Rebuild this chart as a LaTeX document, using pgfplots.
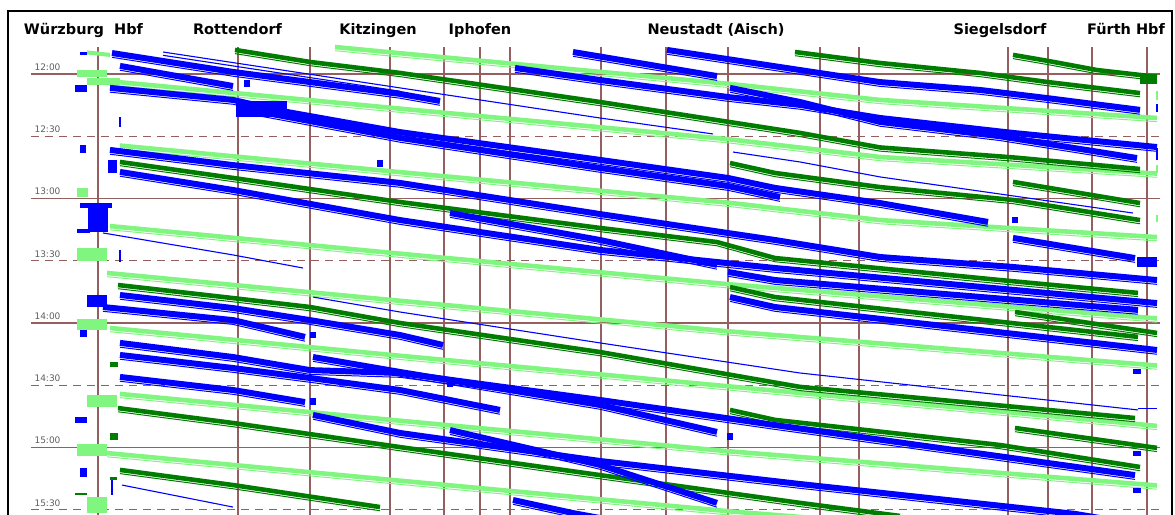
\documentclass[border=0pt]{standalone}
\usepackage{fontspec}
\setmainfont{DejaVu Sans}
\usepackage{pgfplots}
\pgfplotsset{compat=1.18}
\definecolor{tblue}{RGB}{0,0,255}
\definecolor{dgreen}{RGB}{0,125,0}
\definecolor{lgreen}{RGB}{128,245,128}
\definecolor{gridc}{RGB}{150,95,95}
\definecolor{tgray}{RGB}{95,95,95}
\tikzset{
 bb/.style={draw=tblue, line width=6pt, line join=bevel,
   postaction={draw=tblue, line width=1pt, transform canvas={yshift=-4.3pt}}},
 db/.style={draw=dgreen, line width=4.6pt, line join=bevel,
   postaction={draw=dgreen, line width=1pt, transform canvas={yshift=-3.7pt}}},
 lb/.style={draw=lgreen, line width=4.6pt, line join=bevel,
   postaction={draw=lgreen, line width=1pt, transform canvas={yshift=-3.7pt}}},
 tb/.style={draw=tblue, line width=1.1pt, line join=bevel},
 hl/.style={draw=gridc, line width=1.1pt},
 dl/.style={draw=gridc, line width=1.1pt, dash pattern=on 8pt off 6pt},
 st/.style={anchor=base, font=\bfseries\fontsize{14.5}{17}\selectfont},
 tl/.style={anchor=base west, text=tgray, font=\fontsize{9}{10}\selectfont},
}
\begin{document}
\begin{tikzpicture}
\begin{axis}[x=1pt, y=2.075pt, y dir=reverse, xmin=0, xmax=1175, ymin=-35.66, ymax=212.05,
  hide axis, enlargelimits=false, clip=true, every axis plot/.append style={mark=none}]
\fill[white] (0,-35.66) rectangle (1175,212.05);
% frame
\draw[black, line width=2.4pt] (8,230) -- (8,-30.4) -- (1172,-30.4) -- (1172,230);
% station lines
\pgfplotsinvokeforeach{98,238,310,390,444,480,510,601,666,728,820,859,1008,1048,1092,1147}
  {\draw[gridc, line width=1.2pt] (#1,-13) -- (#1,214);}
% time lines
\pgfplotsinvokeforeach{0,60,120,180} {\draw[hl] (31,#1) -- (1160,#1);}
\pgfplotsinvokeforeach{30,90,150,210} {\draw[dl] (31,#1) -- (1160,#1);}
% ---------------- light green trains
\addplot[lb] coordinates {(335,-13.0) (400,-10.0) (728,4.7) (880,12.5) (1157,21.2)};
\addplot[lb] coordinates {(107,3.4) (400,16.7) (728,31.4) (880,40.0) (1157,48.0)};
\addplot[lb] coordinates {(120,34.5) (400,47.3) (728,62.0) (880,70.4) (1157,78.6)};
\addplot[lb] coordinates {(110,73.3) (400,86.6) (728,101.3) (1157,117.8)};
\addplot[lb] coordinates {(107,95.9) (400,109.3) (728,124.0) (1157,140.5)};
\addplot[lb] coordinates {(110,122.4) (400,135.8) (728,150.5) (1157,169.6)};
\addplot[lb] coordinates {(120,154.2) (400,167.1) (728,181.8) (1157,198.3)};
\addplot[lb] coordinates {(107,182.7) (400,196.0) (728,210.7) (1157,227.2)};
\addplot[lgreen, line width=4pt] coordinates {(87,-10.4) (110,-9.2)};
% light green blocks at Wuerzburg
\addplot[lgreen, line width=7pt] coordinates {(77,-0.2) (107,-0.2)};
\addplot[lgreen, line width=7pt] coordinates {(87,3.4) (120,3.4)};
\addplot[lgreen, line width=9pt] coordinates {(77,57.1) (88,57.1)};
\addplot[lgreen, line width=13pt] coordinates {(77,87.2) (107,87.2)};
\addplot[lgreen, line width=11pt] coordinates {(77,120.5) (107,120.5)};
\addplot[lgreen, line width=12pt] coordinates {(87,157.6) (117,157.6)};
\addplot[lgreen, line width=12pt] coordinates {(77,181.2) (107,181.2)};
\addplot[lgreen, line width=16pt] coordinates {(87,207.7) (107,207.7)};
\addplot[lgreen, line width=1.5pt] coordinates {(1157,8.2) (1157,12.5)};
\addplot[lgreen, line width=1.5pt] coordinates {(1157,43.9) (1157,47.7)};
\addplot[lgreen, line width=1.5pt] coordinates {(1157,68.0) (1157,71.3)};
% ---------------- dark green trains
\addplot[db] coordinates {(235,-11.6) (310,-5.8) (400,-0.5) (600,13.5) (800,28.4) (880,35.4) (1013,40.2) (1140,45.8)};
\addplot[db] coordinates {(795,-10.6) (880,-5.3) (980,-0.5) (1048,3.9) (1140,9.2)};
\addplot[db] coordinates {(1013,-9.2) (1048,-6.3) (1097,-1.9) (1157,1.4)};
\addplot[db] coordinates {(730,42.9) (775,47.7) (880,54.5) (1013,60.7) (1140,70.4)};
\addplot[db] coordinates {(1013,52.0) (1140,62.2)};
\addplot[db] coordinates {(120,42.4) (233,50.1) (400,61.7) (600,74.2) (717,81.0) (775,88.7) (1000,99.3) (1138,105.5)};
\addplot[db] coordinates {(118,101.7) (233,108.0) (310,112.3) (400,120.0) (600,134.0) (800,150.8) (1135,165.8)};
\addplot[db] coordinates {(730,102.7) (775,107.5) (1138,126.7)};
\addplot[db] coordinates {(1015,114.7) (1157,124.8)};
\addplot[db] coordinates {(730,161.9) (775,166.7) (1000,178.8) (1140,189.4)};
\addplot[db] coordinates {(1015,170.6) (1157,180.2)};
\addplot[db] coordinates {(118,161.0) (233,168.2) (400,179.8) (600,193.3) (800,206.7) (900,213.0)};
\addplot[db] coordinates {(120,190.8) (233,198.1) (380,208.7)};
\addplot[dgreen, line width=5pt] coordinates {(110,140.2) (118,140.2)};
\addplot[dgreen, line width=7pt] coordinates {(110,174.7) (118,174.7)};
\addplot[dgreen, line width=3pt] coordinates {(110,194.9) (117,194.9)};
\addplot[dgreen, line width=2pt] coordinates {(75,202.4) (87,202.4)};
\addplot[dgreen, line width=10pt] coordinates {(1140,2.4) (1157,2.4)};
% ---------------- blue trains
\addplot[bb] coordinates {(112,-10.1) (233,-1.0) (400,9.6) (440,13.0)};
\addplot[bb] coordinates {(120,-3.9) (233,5.8)};
\addplot[bb] coordinates {(110,6.7) (233,12.5) (287,18.3) (400,28.0) (600,41.4) (728,50.1) (775,54.9) (880,62.2) (988,71.3)};
\addplot[tblue, line width=16pt] coordinates {(236,16.9) (287,16.9)};
\addplot[bb] coordinates {(250,17.3) (400,30.8) (600,45.3) (728,54.0) (780,59.3)};
\addplot[bb] coordinates {(573,-10.6) (717,1.0)};
\addplot[bb] coordinates {(667,-11.6) (800,-1.9) (880,3.9) (980,7.7) (1047,11.6) (1140,17.3)};
\addplot[bb] coordinates {(515,-2.9) (600,2.9) (728,11.1) (800,14.9) (880,21.2) (1013,28.4) (1157,35.2)};
\addplot[bb] coordinates {(730,6.7) (800,13.5) (880,23.1) (1000,30.0) (1137,40.5)};
\addplot[bb] coordinates {(110,36.6) (233,43.9) (400,52.5) (600,67.5) (775,80.0) (880,88.2) (1013,93.0) (1157,99.3)};
\addplot[bb] coordinates {(120,47.2) (233,55.9) (400,70.4) (600,84.8) (775,93.5) (1157,110.4)};
\addplot[bb] coordinates {(450,67.0) (600,80.0) (717,92.0)};
\addplot[bb] coordinates {(728,95.4) (775,99.3) (1138,113.7)};
\addplot[bb] coordinates {(1013,79.0) (1135,88.7)};
\addplot[bb] coordinates {(730,107.5) (775,112.3) (1157,133.0)};
\addplot[bb] coordinates {(120,106.5) (233,112.8) (310,118.6) (400,125.8) (443,130.6)};
\addplot[bb] coordinates {(103,112.3) (233,118.6) (305,126.7)};
\addplot[bb] coordinates {(120,129.6) (233,136.4) (310,142.7) (400,144.1) (600,157.1) (775,169.2) (1135,193.3)};
\addplot[bb] coordinates {(120,135.4) (233,141.7) (310,146.5) (400,152.3) (500,161.9)};
\addplot[bb] coordinates {(313,136.4) (400,143.6) (600,159.5) (717,172.5)};
\addplot[bb] coordinates {(120,146.0) (233,152.3) (305,158.1)};
\addplot[bb] coordinates {(313,164.3) (400,173.0) (600,186.5) (800,197.6) (1075,212.0) (1100,214.0)};
\addplot[bb] coordinates {(450,171.6) (600,188.4) (717,206.7)};
\addplot[bb] coordinates {(513,205.3) (573,211.6) (600,214.0)};
% thin blue
\addplot[tb] coordinates {(163,-10.6) (400,6.7) (600,21.2) (713,28.9)};
\addplot[tb] coordinates {(163,-9.0) (400,8.3)};
\addplot[tb] coordinates {(103,76.6) (233,87.2) (303,93.5)};
\addplot[tb] coordinates {(313,107.5) (400,114.7) (600,129.6) (800,144.1) (1138,161.9)};
\addplot[tb] coordinates {(733,37.6) (800,42.4) (880,49.6) (1133,67.0)};
\addplot[tb] coordinates {(122,198.1) (233,208.7)};
\addplot[tb] coordinates {(1138,161.0) (1157,161.0)};
% blue blocks
\addplot[tblue, line width=3pt] coordinates {(80,-9.9) (87,-9.9)};
\addplot[tblue, line width=7pt] coordinates {(75,7.0) (87,7.0)};
\addplot[tblue, line width=8pt] coordinates {(80,36.1) (86,36.1)};
\addplot[tblue, line width=13pt] coordinates {(108,44.6) (117,44.6)};
\addplot[tblue, line width=5pt] coordinates {(80,63.4) (112,63.4)};
\addplot[tblue, line width=24pt] coordinates {(88,70.4) (108,70.4)};
\addplot[tblue, line width=4pt] coordinates {(77,75.7) (90,75.7)};
\addplot[tblue, line width=12pt] coordinates {(87,109.4) (107,109.4)};
\addplot[tblue, line width=7pt] coordinates {(80,125.1) (87,125.1)};
\addplot[tblue, line width=6pt] coordinates {(75,166.7) (87,166.7)};
\addplot[tblue, line width=9pt] coordinates {(80,192.0) (87,192.0)};
\addplot[tblue, line width=1.5pt] coordinates {(120,20.7) (120,25.5)};
\addplot[tblue, line width=1.5pt] coordinates {(120,84.8) (120,90.6)};
\addplot[tblue, line width=1.5pt] coordinates {(112,195.7) (112,202.9)};
\addplot[tblue, line width=7pt] coordinates {(377,43.1) (383,43.1)};
\addplot[tblue, line width=7pt] coordinates {(244,4.6) (250,4.6)};
\addplot[tblue, line width=6pt] coordinates {(310,125.8) (316,125.8)};
\addplot[tblue, line width=7pt] coordinates {(310,157.8) (316,157.8)};
\addplot[tblue, line width=7pt] coordinates {(447,149.2) (453,149.2)};
\addplot[tblue, line width=7pt] coordinates {(727,174.7) (733,174.7)};
\addplot[tblue, line width=6pt] coordinates {(1012,70.4) (1018,70.4)};
\addplot[tblue, line width=10pt] coordinates {(1137,90.8) (1157,90.8)};
\addplot[tblue, line width=5pt] coordinates {(1133,143.6) (1141,143.6)};
\addplot[tblue, line width=5pt] coordinates {(1133,182.7) (1141,182.7)};
\addplot[tblue, line width=5pt] coordinates {(1133,200.5) (1141,200.5)};
\addplot[tblue, line width=1.5pt] coordinates {(1157,14.5) (1157,18.3)};
\addplot[tblue, line width=1.5pt] coordinates {(1157,35.7) (1157,41.4)};
% station names
\node[st] at (83.5,-18.9) {Würzburg\ \ Hbf};
\node[st] at (237.5,-18.9) {Rottendorf};
\node[st] at (378,-18.9) {Kitzingen};
\node[st] at (480,-18.9) {Iphofen};
\node[st] at (716,-18.9) {Neustadt (Aisch)};
\node[st] at (1000,-18.9) {Siegelsdorf};
\node[st] at (1126,-18.9) {Fürth Hbf};
% time labels
\node[tl] at (31,-1.7) {12:00};
\node[tl] at (31,28.3) {12:30};
\node[tl] at (31,58.3) {13:00};
\node[tl] at (31,88.3) {13:30};
\node[tl] at (31,118.3) {14:00};
\node[tl] at (31,148.3) {14:30};
\node[tl] at (31,178.3) {15:00};
\node[tl] at (31,208.3) {15:30};
\end{axis}
\end{tikzpicture}
\end{document}
